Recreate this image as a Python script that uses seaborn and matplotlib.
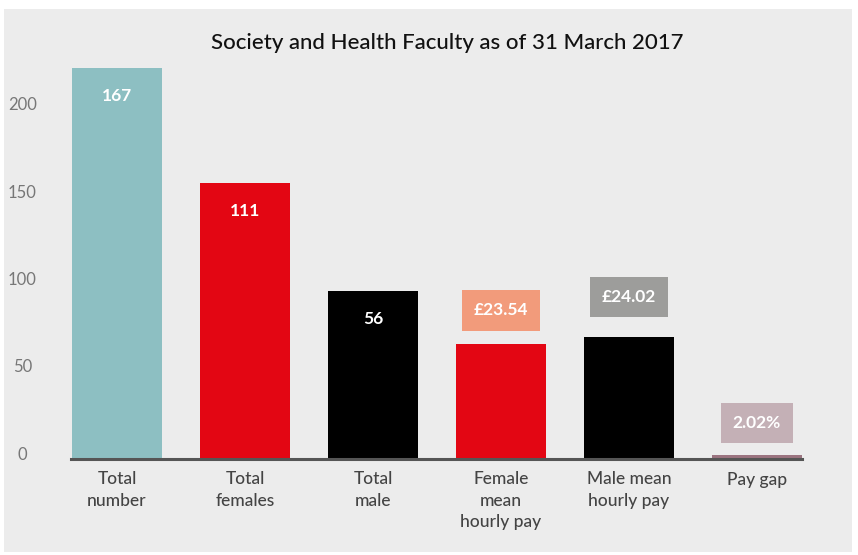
import matplotlib
matplotlib.use("Agg")
import matplotlib.pyplot as plt
import matplotlib.transforms as mtransforms
from matplotlib.patches import Rectangle
import pandas as pd
import seaborn as sns

# ============================================
# Data
categories = ['Total\nnumber', 'Total\nfemales', 'Total\nmale',
              'Female\nmean\nhourly pay', 'Male mean\nhourly pay', 'Pay gap']
bar_heights = [224, 158, 96, 66, 70, 2.5]
value_labels = ['167', '111', '56', '£23.54', '£24.02', '2.02%']
bar_colors = ['#8dbfc2', '#e30613', '#000000', '#e30613', '#000000', '#9b7480']
# labels drawn inside the bar (None) or in a coloured box above it
box_colors = [None, None, None, '#f29b7b', '#9d9d9b', '#c4b0b6']
box_offsets = [0, 0, 0, 24, 28.5, 23]
yticks = [0, 50, 100, 150, 200]

plot_df = pd.DataFrame({'category': categories, 'height': bar_heights})

sns.set_theme(style="white")
plt.rcParams['font.family'] = ['Lato', 'DejaVu Sans']

bg = '#ececec'
fig = plt.figure(figsize=(8.58, 5.55), dpi=100, facecolor='white')
fig.patches.append(Rectangle((4 / 858, 3 / 555), 848 / 858, 543 / 555,
                             transform=fig.transFigure, facecolor=bg,
                             edgecolor='none', zorder=-10))

ax = fig.add_axes([71 / 858, 96 / 555, 731 / 858, 225 * 1.746 / 555])
ax.set_facecolor(bg)

sns.barplot(data=plot_df, x='category', y='height', hue='category',
            palette=bar_colors, legend=False, width=0.703, saturation=1,
            linewidth=0, ax=ax)

ax.set_xlim(-0.359, 5.352)
ax.set_ylim(0, 225)
ax.set_yticks(yticks)
ax.set_xlabel(None)
ax.set_ylabel(None)

for side in ['top', 'right', 'left']:
    ax.spines[side].set_visible(False)
ax.spines['bottom'].set_color('#555555')
ax.spines['bottom'].set_linewidth(2.2)

ax.tick_params(axis='y', length=0, pad=35, labelsize=12, labelcolor='#777777')
shift_up = mtransforms.ScaledTranslation(0, 6 / 100, fig.dpi_scale_trans)
for lab in ax.get_yticklabels():
    lab.set_horizontalalignment('center')
    lab.set_transform(lab.get_transform() + shift_up)
ax.tick_params(axis='x', length=0, pad=9, labelsize=12.5, labelcolor='#444444')
for lab in ax.get_xticklabels():
    lab.set_linespacing(1.4)
    lab.set_verticalalignment('top')
    lab.set_fontweight('medium')

for i, (h, txt, bc, off) in enumerate(zip(bar_heights, value_labels, box_colors, box_offsets)):
    if bc is None:
        ax.annotate(txt, xy=(i, h), xytext=(0, -20), textcoords='offset points',
                    ha='center', va='center', color='white', fontsize=12.5,
                    fontweight='bold')
    else:
        ax.annotate(txt, xy=(i, h), xytext=(0, off), textcoords='offset points',
                    ha='center', va='center', color='white', fontsize=12.5,
                    fontweight='bold',
                    bbox=dict(boxstyle='square,pad=0.7', facecolor=bc,
                              edgecolor='none'))

fig.text(447 / 858, 1 - 43 / 555, 'Society and Health Faculty as of 31 March 2017',
         ha='center', va='center', fontsize=16, fontweight='medium', color='#111111')

plt.savefig('out.png', dpi=100, facecolor='white')
